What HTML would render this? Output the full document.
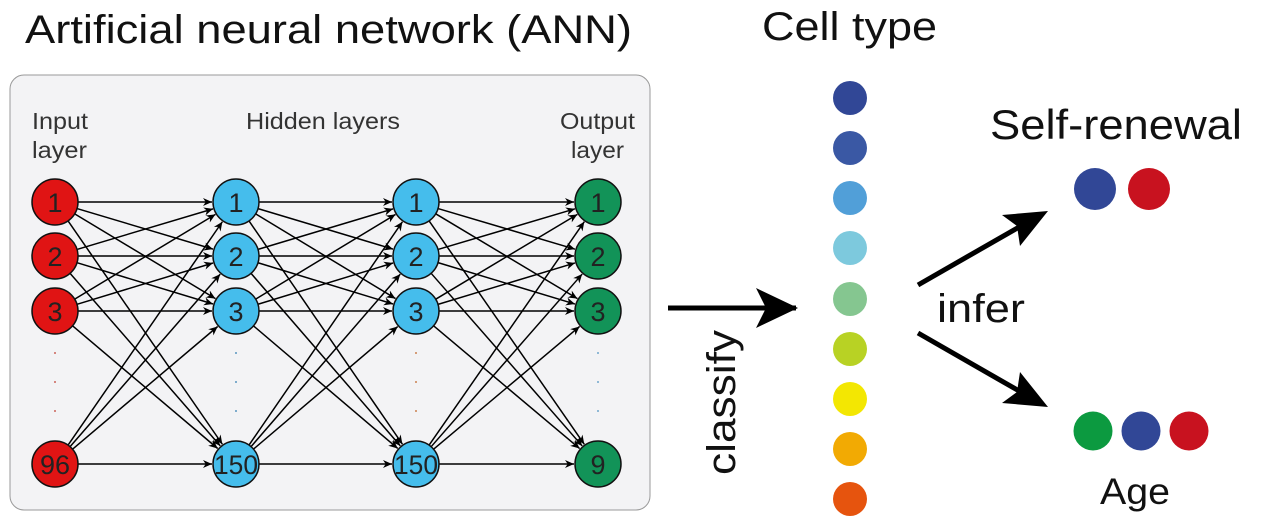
<!DOCTYPE html>
<html><head><meta charset="utf-8"><style>
html,body{margin:0;padding:0;background:#fff;}
svg{display:block;}
text{font-family:"Liberation Sans",sans-serif;}
</style></head><body>
<svg id="s" width="1261" height="526" viewBox="0 0 1261 526" xmlns="http://www.w3.org/2000/svg">
<defs>
<marker id="a" viewBox="0 0 10 10" refX="10" refY="5" markerWidth="11" markerHeight="9" orient="auto" markerUnits="userSpaceOnUse"><path d="M0,0.5 L10,5 L0,9.5 L3,5 z" fill="#000"/></marker>
</defs>
<rect x="10" y="75" width="640" height="435" rx="14" fill="#f3f3f5" stroke="#9a9a9a" stroke-width="1"/>
<text x="25" y="43" font-size="40" fill="#111" textLength="607" lengthAdjust="spacingAndGlyphs">Artificial neural network (ANN)</text>
<text x="762" y="40" font-size="40" fill="#111" textLength="175" lengthAdjust="spacingAndGlyphs">Cell type</text>
<g font-size="23" fill="#333">
<text x="32" y="129" textLength="56" lengthAdjust="spacingAndGlyphs">Input</text><text x="32" y="158" textLength="55" lengthAdjust="spacingAndGlyphs">layer</text>
<text x="246" y="129" textLength="154" lengthAdjust="spacingAndGlyphs">Hidden layers</text>
<text x="560" y="129" textLength="75" lengthAdjust="spacingAndGlyphs">Output</text><text x="571" y="158" textLength="53" lengthAdjust="spacingAndGlyphs">layer</text>
</g>
<g id="edges" stroke="#000" stroke-width="1.5"></g>
<g id="nodes"></g>
<line x1="668" y1="308" x2="796" y2="308" stroke="#000" stroke-width="5"/>
<path d="M798,308 L756,288 L766,308 L756,328 z" fill="#000"/>
<text transform="translate(735,475) rotate(-90)" font-size="40" fill="#111" textLength="145" lengthAdjust="spacingAndGlyphs">classify</text>
<line x1="918" y1="285" x2="1040" y2="215" stroke="#000" stroke-width="5"/>
<path d="M1048,211 L1020,246 L1017,226 L1002,215 z" fill="#000"/>
<line x1="918" y1="333" x2="1040" y2="403" stroke="#000" stroke-width="5"/>
<path d="M1048,407 L1002,403 L1017,392 L1020,372 z" fill="#000"/>
<text x="937" y="322" font-size="40" fill="#111" textLength="88" lengthAdjust="spacingAndGlyphs">infer</text>
<text x="990" y="139" font-size="42" fill="#111" textLength="252" lengthAdjust="spacingAndGlyphs">Self-renewal</text>
<text x="1100" y="504" font-size="37" fill="#111" textLength="70" lengthAdjust="spacingAndGlyphs">Age</text>
<g>
<circle cx="850" cy="98" r="17" fill="#314796"/>
<circle cx="850" cy="148" r="17" fill="#3a58a4"/>
<circle cx="850" cy="198" r="17" fill="#519fd8"/>
<circle cx="850" cy="248" r="17" fill="#7dc9dd"/>
<circle cx="850" cy="299" r="17" fill="#85c690"/>
<circle cx="850" cy="349" r="17" fill="#b8d224"/>
<circle cx="850" cy="399" r="17" fill="#f3e702"/>
<circle cx="850" cy="449" r="17" fill="#f2aa03"/>
<circle cx="850" cy="499" r="17" fill="#e6540e"/>
<circle cx="1095" cy="189" r="21" fill="#314796"/>
<circle cx="1149" cy="189" r="21" fill="#c8121f"/>
<circle cx="1093" cy="431" r="19.5" fill="#0c9a40"/>
<circle cx="1141" cy="431" r="19.5" fill="#314796"/>
<circle cx="1189" cy="431" r="19.5" fill="#c8121f"/>
</g>
</svg>
<script>
(function(){
var NS="http://www.w3.org/2000/svg";
var xs=[55,236,416,598], ys=[202,256,311,464], R=23;
var fills=["#e01414","#45bdec","#45bdec","#129358"];
var labels=[["1","2","3","96"],["1","2","3","150"],["1","2","3","150"],["1","2","3","9"]];
var dotc=["#c0392b","#2a7ab0","#c06020","#4a90c0"];
var eg=document.getElementById("edges"), ng=document.getElementById("nodes");
for(var l=0;l<3;l++)for(var i=0;i<4;i++)for(var j=0;j<4;j++){
 var x1=xs[l],y1=ys[i],x2=xs[l+1],y2=ys[j];
 var dx=x2-x1,dy=y2-y1,d=Math.sqrt(dx*dx+dy*dy),ux=dx/d,uy=dy/d;
 var ln=document.createElementNS(NS,"line");
 ln.setAttribute("x1",x1+ux*R);ln.setAttribute("y1",y1+uy*R);
 ln.setAttribute("x2",x2-ux*(R+1));ln.setAttribute("y2",y2-uy*(R+1));
 ln.setAttribute("marker-end","url(#a)");
 eg.appendChild(ln);
}
for(var l=0;l<4;l++){
 for(var i=0;i<4;i++){
  var c=document.createElementNS(NS,"circle");
  c.setAttribute("cx",xs[l]);c.setAttribute("cy",ys[i]);c.setAttribute("r",R);
  c.setAttribute("fill",fills[l]);c.setAttribute("stroke","#111");c.setAttribute("stroke-width","1.5");
  ng.appendChild(c);
  var t=document.createElementNS(NS,"text");
  t.setAttribute("x",xs[l]);t.setAttribute("y",ys[i]+10);t.setAttribute("text-anchor","middle");
  t.setAttribute("font-size","27");t.setAttribute("fill","#222");
  if(labels[l][i].length==3){t.setAttribute("textLength","44");t.setAttribute("lengthAdjust","spacingAndGlyphs");}
  t.textContent=labels[l][i];ng.appendChild(t);
 }
 for(var k=0;k<3;k++){
  var dt=document.createElementNS(NS,"circle");
  dt.setAttribute("cx",xs[l]);dt.setAttribute("cy",353+k*29);dt.setAttribute("r","0.9");
  dt.setAttribute("fill",dotc[l]);ng.appendChild(dt);
 }
}
})();
</script>
</body></html>
